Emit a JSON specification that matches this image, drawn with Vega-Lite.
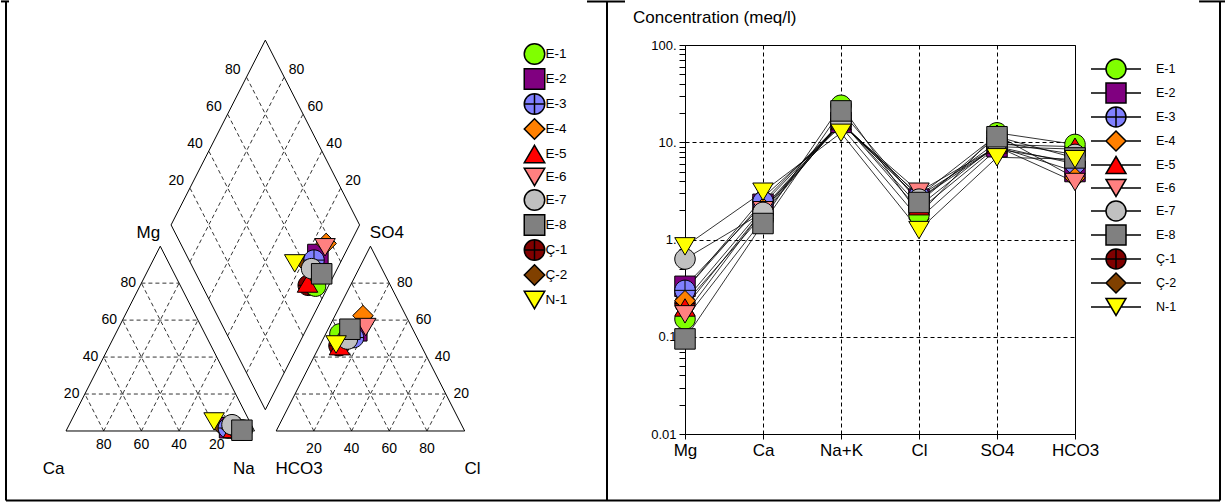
{
"$schema": "https://vega.github.io/schema/vega-lite/v6.json",
"padding": 0,
"bounds": "flush",
"spacing": 78,
"background": "white",
"config": {"font": "Liberation Sans", "view": {"stroke": null}},
"datasets": {
"outline": [
{"poly":"cat","i":0,"x":0,"y":0},{"poly":"cat","i":1,"x":100,"y":0},{"poly":"cat","i":2,"x":50,"y":86.6},{"poly":"cat","i":3,"x":0,"y":0},
{"poly":"an","i":0,"x":111.5,"y":0},{"poly":"an","i":1,"x":211.5,"y":0},{"poly":"an","i":2,"x":161.5,"y":86.6},{"poly":"an","i":3,"x":111.5,"y":0},
{"poly":"dia","i":0,"x":105.75,"y":9.96},{"poly":"dia","i":1,"x":155.75,"y":96.56},{"poly":"dia","i":2,"x":105.75,"y":183.16},{"poly":"dia","i":3,"x":55.75,"y":96.56},{"poly":"dia","i":4,"x":105.75,"y":9.96}
],
"grid": [
{"x":10,"y":17.32,"x2":90,"y2":17.32},{"x":20,"y":34.64,"x2":80,"y2":34.64},{"x":30,"y":51.96,"x2":70,"y2":51.96},{"x":40,"y":69.28,"x2":60,"y2":69.28},
{"x":20,"y":0,"x2":60,"y2":69.28},{"x":40,"y":0,"x2":70,"y2":51.96},{"x":60,"y":0,"x2":80,"y2":34.64},{"x":80,"y":0,"x2":90,"y2":17.32},
{"x":80,"y":0,"x2":40,"y2":69.28},{"x":60,"y":0,"x2":30,"y2":51.96},{"x":40,"y":0,"x2":20,"y2":34.64},{"x":20,"y":0,"x2":10,"y2":17.32},
{"x":121.5,"y":17.32,"x2":201.5,"y2":17.32},{"x":131.5,"y":34.64,"x2":191.5,"y2":34.64},{"x":141.5,"y":51.96,"x2":181.5,"y2":51.96},{"x":151.5,"y":69.28,"x2":171.5,"y2":69.28},
{"x":131.5,"y":0,"x2":171.5,"y2":69.28},{"x":151.5,"y":0,"x2":181.5,"y2":51.96},{"x":171.5,"y":0,"x2":191.5,"y2":34.64},{"x":191.5,"y":0,"x2":201.5,"y2":17.32},
{"x":191.5,"y":0,"x2":151.5,"y2":69.28},{"x":171.5,"y":0,"x2":141.5,"y2":51.96},{"x":151.5,"y":0,"x2":131.5,"y2":34.64},{"x":131.5,"y":0,"x2":121.5,"y2":17.32},
{"x":95.75,"y":27.28,"x2":145.75,"y2":113.88},{"x":85.75,"y":44.6,"x2":135.75,"y2":131.2},{"x":75.75,"y":61.92,"x2":125.75,"y2":148.52},{"x":65.75,"y":79.24,"x2":115.75,"y2":165.84},
{"x":115.75,"y":27.28,"x2":65.75,"y2":113.88},{"x":125.75,"y":44.6,"x2":75.75,"y2":131.2},{"x":135.75,"y":61.92,"x2":85.75,"y2":148.52},{"x":145.75,"y":79.24,"x2":95.75,"y2":165.84}
],
"frame": [
{"x":-31.83,"y":-32.57,"x2":-31.83,"y2":201.3},
{"x":287.0,"y":-32.57,"x2":287.0,"y2":201.3},
{"x":612.2,"y":-32.57,"x2":612.2,"y2":201.3},
{"x":-31.83,"y":-32.57,"x2":612.2,"y2":-32.57},
{"x":-34.48,"y":201.3,"x2":-30.24,"y2":201.3},
{"x":276.4,"y":201.3,"x2":296.55,"y2":201.3},
{"x":601.1,"y":201.3,"x2":615.4,"y2":201.3}
],
"plabels": [
{"kind":"tick","label":"80","x":20,"y":-6.65},{"kind":"tick","label":"60","x":40,"y":-6.65},{"kind":"tick","label":"40","x":60,"y":-6.65},{"kind":"tick","label":"20","x":80,"y":-6.65},
{"kind":"tick","label":"20","x":131.5,"y":-8.34},{"kind":"tick","label":"40","x":151.5,"y":-8.34},{"kind":"tick","label":"60","x":171.5,"y":-8.34},{"kind":"tick","label":"80","x":191.5,"y":-8.34},
{"kind":"tick","label":"80","x":33,"y":69.28},{"kind":"tick","label":"60","x":23,"y":51.96},{"kind":"tick","label":"40","x":13,"y":34.64},{"kind":"tick","label":"20","x":3,"y":17.32},
{"kind":"tick","label":"80","x":179.7,"y":69.28},{"kind":"tick","label":"60","x":189.7,"y":51.96},{"kind":"tick","label":"40","x":199.7,"y":34.64},{"kind":"tick","label":"20","x":209.7,"y":17.32},
{"kind":"tick","label":"80","x":88.45,"y":169.14},{"kind":"tick","label":"60","x":78.45,"y":151.82},{"kind":"tick","label":"40","x":68.45,"y":134.5},{"kind":"tick","label":"20","x":58.45,"y":117.18},
{"kind":"tick","label":"80","x":122.25,"y":169.14},{"kind":"tick","label":"60","x":132.25,"y":151.82},{"kind":"tick","label":"40","x":142.25,"y":134.5},{"kind":"tick","label":"20","x":152.25,"y":117.18},
{"kind":"name","label":"Mg","x":43.7,"y":92.9},{"kind":"name","label":"SO4","x":170.2,"y":92.9},
{"kind":"name","label":"Ca","x":-6.6,"y":-17.7},{"kind":"name","label":"Na","x":94.3,"y":-17.7},{"kind":"name","label":"HCO3","x":123.7,"y":-17.7},{"kind":"name","label":"Cl","x":215.6,"y":-17.7}
],
"piper": [
{"sample":"Ç-1","part":"cation","x":89.69,"y":1.03},{"sample":"Ç-1","part":"anion","x":144.83,"y":39.97},{"sample":"Ç-1","part":"diamond","x":128.50,"y":68.26},
{"sample":"Ç-2","part":"cation","x":83.71,"y":1.48},{"sample":"Ç-2","part":"anion","x":147.29,"y":44.80},{"sample":"Ç-2","part":"diamond","x":128.01,"y":78.20},
{"sample":"E-1","part":"cation","x":93.49,"y":0.51},{"sample":"E-1","part":"anion","x":145.32,"y":45.48},{"sample":"E-1","part":"diamond","x":132.39,"y":67.88},
{"sample":"E-2","part":"cation","x":86.77,"y":1.53},{"sample":"E-2","part":"anion","x":154.27,"y":46.95},{"sample":"E-2","part":"diamond","x":133.63,"y":82.70},
{"sample":"E-3","part":"cation","x":86.13,"y":1.39},{"sample":"E-3","part":"anion","x":152.51,"y":43.79},{"sample":"E-3","part":"diamond","x":131.56,"y":80.07},
{"sample":"E-4","part":"cation","x":87.91,"y":1.11},{"sample":"E-4","part":"anion","x":157.53,"y":54.07},{"sample":"E-4","part":"diamond","x":138.01,"y":87.89},
{"sample":"E-5","part":"cation","x":88.77,"y":0.93},{"sample":"E-5","part":"anion","x":145.08,"y":39.74},{"sample":"E-5","part":"diamond","x":128.13,"y":69.10},
{"sample":"E-6","part":"cation","x":88.20,"y":0.83},{"sample":"E-6","part":"anion","x":159.0,"y":48.71},{"sample":"E-6","part":"diamond","x":137.42,"y":86.09},
{"sample":"E-7","part":"cation","x":88.05,"y":2.94},{"sample":"E-7","part":"anion","x":149.31,"y":43.08},{"sample":"E-7","part":"diamond","x":130.27,"y":76.07},
{"sample":"E-8","part":"cation","x":93.32,"y":0.36},{"sample":"E-8","part":"anion","x":150.63,"y":47.69},{"sample":"E-8","part":"diamond","x":135.64,"y":73.66},
{"sample":"N-1","part":"cation","x":78.57,"y":4.47},{"sample":"N-1","part":"anion","x":143.27,"y":40.55},{"sample":"N-1","part":"diamond","x":121.34,"y":78.54}
],
"sch": [
{"sample":"Ç-1","ion":"Mg","value":0.22},{"sample":"Ç-1","ion":"Ca","value":1.8},{"sample":"Ç-1","ion":"Na+K","value":16.5},{"sample":"Ç-1","ion":"Cl","value":2.0},{"sample":"Ç-1","ion":"SO4","value":9.0},{"sample":"Ç-1","ion":"HCO3","value":8.5},
{"sample":"Ç-2","ion":"Mg","value":0.30},{"sample":"Ç-2","ion":"Ca","value":2.7},{"sample":"Ç-2","ion":"Na+K","value":14.5},{"sample":"Ç-2","ion":"Cl","value":1.63},{"sample":"Ç-2","ion":"SO4","value":8.5},{"sample":"Ç-2","ion":"HCO3","value":6.3},
{"sample":"E-1","ion":"Mg","value":0.152},{"sample":"E-1","ion":"Ca","value":1.6},{"sample":"E-1","ion":"Na+K","value":24},{"sample":"E-1","ion":"Cl","value":1.8},{"sample":"E-1","ion":"SO4","value":12.5},{"sample":"E-1","ion":"HCO3","value":9.5},
{"sample":"E-2","ion":"Mg","value":0.33},{"sample":"E-2","ion":"Ca","value":2.3},{"sample":"E-2","ion":"Na+K","value":16},{"sample":"E-2","ion":"Cl","value":2.6},{"sample":"E-2","ion":"SO4","value":9.0},{"sample":"E-2","ion":"HCO3","value":5.0},
{"sample":"E-3","ion":"Mg","value":0.30},{"sample":"E-3","ion":"Ca","value":2.45},{"sample":"E-3","ion":"Na+K","value":16},{"sample":"E-3","ion":"Cl","value":2.8},{"sample":"E-3","ion":"SO4","value":9.0},{"sample":"E-3","ion":"HCO3","value":6.0},
{"sample":"E-4","ion":"Mg","value":0.235},{"sample":"E-4","ion":"Ca","value":2.1},{"sample":"E-4","ion":"Na+K","value":16},{"sample":"E-4","ion":"Cl","value":2.8},{"sample":"E-4","ion":"SO4","value":11.8},{"sample":"E-4","ion":"HCO3","value":4.3},
{"sample":"E-5","ion":"Mg","value":0.20},{"sample":"E-5","ion":"Ca","value":2.0},{"sample":"E-5","ion":"Na+K","value":16.5},{"sample":"E-5","ion":"Cl","value":2.2},{"sample":"E-5","ion":"SO4","value":9.5},{"sample":"E-5","ion":"HCO3","value":9.0},
{"sample":"E-6","ion":"Mg","value":0.17},{"sample":"E-6","ion":"Ca","value":2.0},{"sample":"E-6","ion":"Na+K","value":15.5},{"sample":"E-6","ion":"Cl","value":3.1},{"sample":"E-6","ion":"SO4","value":9.0},{"sample":"E-6","ion":"HCO3","value":3.9},
{"sample":"E-7","ion":"Mg","value":0.63},{"sample":"E-7","ion":"Ca","value":1.9},{"sample":"E-7","ion":"Na+K","value":16},{"sample":"E-7","ion":"Cl","value":2.6},{"sample":"E-7","ion":"SO4","value":10.0},{"sample":"E-7","ion":"HCO3","value":7.5},
{"sample":"E-8","ion":"Mg","value":0.095},{"sample":"E-8","ion":"Ca","value":1.46},{"sample":"E-8","ion":"Na+K","value":21},{"sample":"E-8","ion":"Cl","value":2.4},{"sample":"E-8","ion":"SO4","value":11.4},{"sample":"E-8","ion":"HCO3","value":6.9},
{"sample":"N-1","ion":"Mg","value":0.85},{"sample":"N-1","ion":"Ca","value":3.1},{"sample":"N-1","ion":"Na+K","value":12.5},{"sample":"N-1","ion":"Cl","value":1.25},{"sample":"N-1","ion":"SO4","value":7.0},{"sample":"N-1","ion":"HCO3","value":6.7}
]
},
"hconcat": [
{
"width": 601, "height": 389,
"layer": [
{"data": {"name": "grid"}, "mark": {"type": "rule", "strokeDash": [4, 3], "strokeWidth": 0.8, "color": "black"},
 "encoding": {
  "x": {"field": "x", "type": "quantitative", "scale": {"domain": [-31.83, 287.0], "nice": false, "zero": false}, "axis": null},
  "y": {"field": "y", "type": "quantitative", "scale": {"domain": [-1.41, 180.88], "nice": false, "zero": false}, "axis": null},
  "x2": {"field": "x2"}, "y2": {"field": "y2"}}},
{"data": {"name": "outline"}, "mark": {"type": "line", "color": "black", "strokeWidth": 1},
 "encoding": {"x": {"field": "x", "type": "quantitative"}, "y": {"field": "y", "type": "quantitative"}, "detail": {"field": "poly"}, "order": {"field": "i", "type": "quantitative"}}},
{"data": {"name": "plabels"}, "transform": [{"filter": "datum.kind === 'tick'"}],
 "mark": {"type": "text", "fontSize": 14, "color": "black", "align": "center", "baseline": "middle"},
 "encoding": {"x": {"field": "x", "type": "quantitative"}, "y": {"field": "y", "type": "quantitative"}, "text": {"field": "label"}}},
{"data": {"name": "plabels"}, "transform": [{"filter": "datum.kind === 'name'"}],
 "mark": {"type": "text", "fontSize": 17, "color": "black", "align": "center", "baseline": "middle"},
 "encoding": {"x": {"field": "x", "type": "quantitative"}, "y": {"field": "y", "type": "quantitative"}, "text": {"field": "label"}}},
{"data": {"name": "piper"}, "mark": {"type": "point", "filled": true, "stroke": "black", "strokeWidth": 1, "opacity": 1, "size": 420},
 "encoding": {
  "x": {"field": "x", "type": "quantitative"}, "y": {"field": "y", "type": "quantitative"},
  "shape": {"field": "sample", "type": "nominal",
   "scale": {"domain": ["E-1","E-2","E-3","E-4","E-5","E-6","E-7","E-8","Ç-1","Ç-2","N-1"],
    "range": ["M-1,0A1,1,0,1,0,1,0A1,1,0,1,0,-1,0Z","M-1,-1L1,-1L1,1L-1,1Z","M-1,0A1,1,0,1,0,1,0A1,1,0,1,0,-1,0ZM-1,0L1,0M0,-1L0,1","M-1,0L0,-1L1,0L0,1Z","M0,-0.85L1,0.85L-1,0.85Z","M-1,-0.85L1,-0.85L0,0.85Z","M-1,0A1,1,0,1,0,1,0A1,1,0,1,0,-1,0Z","M-1,-1L1,-1L1,1L-1,1Z","M-1,0A1,1,0,1,0,1,0A1,1,0,1,0,-1,0ZM-1,0L1,0M0,-1L0,1","M-1,0L0,-1L1,0L0,1Z","M-1,-0.85L1,-0.85L0,0.85Z"]},
   "legend": {"orient": "none", "legendX": 517.5, "legendY": -2, "title": null, "symbolSize": 420, "labelFontSize": 13.5, "labelColor": "black", "labelOffset": 0, "rowPadding": -6.5, "padding": 0}},
  "color": {"field": "sample", "type": "nominal",
   "scale": {"domain": ["E-1","E-2","E-3","E-4","E-5","E-6","E-7","E-8","Ç-1","Ç-2","N-1"],
    "range": ["#80ff00","#800080","#8080ff","#ff8000","#ff0000","#ff8080","#c0c0c0","#808080","#800000","#804000","#ffff00"]},
   "legend": {"orient": "none", "legendX": 517.5, "legendY": -2, "title": null, "symbolSize": 420, "labelFontSize": 13.5, "labelColor": "black", "labelOffset": 0, "rowPadding": -6.5, "padding": 0}}}},
{"data": {"name": "frame"}, "mark": {"type": "rule", "strokeWidth": 2, "color": "black"},
 "encoding": {"x": {"field": "x", "type": "quantitative"}, "y": {"field": "y", "type": "quantitative"}, "x2": {"field": "x2"}, "y2": {"field": "y2"}}}
]
},
{
"width": 390, "height": 389,
"view": {"stroke": "black", "strokeWidth": 1},
"title": {"text": "Concentration (meq/l)", "anchor": "start", "frame": "group", "dx": -52, "offset": 12, "fontSize": 17, "fontWeight": "normal", "color": "black"},
"data": {"name": "sch"},
"encoding": {
 "x": {"field": "ion", "type": "nominal", "scale": {"type": "point", "domain": ["Mg","Ca","Na+K","Cl","SO4","HCO3"], "padding": 0},
  "axis": {"title": null, "labelAngle": 0, "labelFontSize": 17, "labelColor": "black", "labelPadding": 3, "tickSize": 5, "tickColor": "black", "domain": false, "grid": true, "gridDash": [4, 3], "gridColor": "black", "gridOpacity": 1}},
 "y": {"field": "value", "type": "quantitative", "scale": {"type": "log", "domain": [0.01, 100], "nice": false},
  "axis": {"title": null, "values": [0.01,0.02,0.03,0.04,0.05,0.06,0.07,0.08,0.09,0.1,0.2,0.3,0.4,0.5,0.6,0.7,0.8,0.9,1,2,3,4,5,6,7,8,9,10,20,30,40,50,60,70,80,90,100],
   "labelExpr": "datum.value == 100 ? '100.' : datum.value == 10 ? '10.' : datum.value == 1 ? '1.' : datum.value == 0.1 ? '0.1' : datum.value == 0.01 ? '0.01' : ''",
   "labelOverlap": false, "labelFlush": false, "labelFontSize": 13, "labelColor": "black", "labelPadding": 3, "tickSize": 6, "tickColor": "black", "domain": false,
   "grid": true, "gridDash": [4, 3], "gridColor": "black",
   "gridOpacity": {"condition": {"test": "datum.value == 10 || datum.value == 1 || datum.value == 0.1", "value": 1}, "value": 0}}}
},
"layer": [
 {"mark": {"type": "line", "color": "black", "strokeWidth": 0.8}, "encoding": {"detail": {"field": "sample"}, "order": {"value": null}}},
 {"mark": {"type": "point", "filled": true, "stroke": "black", "strokeWidth": 1, "opacity": 1, "size": 420},
  "encoding": {
   "shape": {"field": "sample", "type": "nominal",
    "scale": {"domain": ["E-1","E-2","E-3","E-4","E-5","E-6","E-7","E-8","Ç-1","Ç-2","N-1"],
     "range": ["M-1,0A1,1,0,1,0,1,0A1,1,0,1,0,-1,0Z","M-1,-1L1,-1L1,1L-1,1Z","M-1,0A1,1,0,1,0,1,0A1,1,0,1,0,-1,0ZM-1,0L1,0M0,-1L0,1","M-1,0L0,-1L1,0L0,1Z","M0,-0.85L1,0.85L-1,0.85Z","M-1,-0.85L1,-0.85L0,0.85Z","M-1,0A1,1,0,1,0,1,0A1,1,0,1,0,-1,0Z","M-1,-1L1,-1L1,1L-1,1Z","M-1,0A1,1,0,1,0,1,0A1,1,0,1,0,-1,0ZM-1,0L1,0M0,-1L0,1","M-1,0L0,-1L1,0L0,1Z","M-1,-0.85L1,-0.85L0,0.85Z"]},
    "legend": null},
   "fill": {"field": "sample", "type": "nominal",
    "scale": {"domain": ["E-1","E-2","E-3","E-4","E-5","E-6","E-7","E-8","Ç-1","Ç-2","N-1"],
     "range": ["#80ff00","#800080","#8080ff","#ff8000","#ff0000","#ff8080","#c0c0c0","#808080","#800000","#804000","#ffff00"]},
    "legend": null}}},
 {"transform": [{"filter": "false"}],
  "mark": {"type": "point", "filled": true, "stroke": "black", "strokeWidth": 1, "opacity": 1, "size": 400},
  "encoding": {
   "shape": {"field": "sample", "type": "nominal",
    "scale": {"domain": ["E-1","E-2","E-3","E-4","E-5","E-6","E-7","E-8","Ç-1","Ç-2","N-1"],
     "range": ["M-2.5,0L-1,0M1,0L2.5,0M-1,0A1,1,0,1,0,1,0A1,1,0,1,0,-1,0Z","M-2.5,0L-1,0M1,0L2.5,0M-1,-1L1,-1L1,1L-1,1Z","M-2.5,0L2.5,0M0,-1L0,1M-1,0A1,1,0,1,0,1,0A1,1,0,1,0,-1,0Z","M-2.5,0L-1,0M1,0L2.5,0M-1,0L0,-1L1,0L0,1Z","M-2.5,0L-0.5,0M0.5,0L2.5,0M0,-0.85L1,0.85L-1,0.85Z","M-2.5,0L-0.5,0M0.5,0L2.5,0M-1,-0.85L1,-0.85L0,0.85Z","M-2.5,0L-1,0M1,0L2.5,0M-1,0A1,1,0,1,0,1,0A1,1,0,1,0,-1,0Z","M-2.5,0L-1,0M1,0L2.5,0M-1,-1L1,-1L1,1L-1,1Z","M-2.5,0L2.5,0M0,-1L0,1M-1,0A1,1,0,1,0,1,0A1,1,0,1,0,-1,0Z","M-2.5,0L-1,0M1,0L2.5,0M-1,0L0,-1L1,0L0,1Z","M-2.5,0L-0.5,0M0.5,0L2.5,0M-1,-0.85L1,-0.85L0,0.85Z"]},
    "legend": {"orient": "none", "legendX": 420, "legendY": 13, "title": null, "symbolSize": 400, "symbolOpacity": 1, "labelFontSize": 12.5, "labelColor": "black", "labelOffset": 29, "rowPadding": -5.5, "padding": 0}},
   "fill": {"field": "sample", "type": "nominal",
    "scale": {"domain": ["E-1","E-2","E-3","E-4","E-5","E-6","E-7","E-8","Ç-1","Ç-2","N-1"],
     "range": ["#80ff00","#800080","#8080ff","#ff8000","#ff0000","#ff8080","#c0c0c0","#808080","#800000","#804000","#ffff00"]},
    "legend": {"orient": "none", "legendX": 420, "legendY": 13, "title": null, "symbolSize": 400, "symbolOpacity": 1, "labelFontSize": 12.5, "labelColor": "black", "labelOffset": 29, "rowPadding": -5.5, "padding": 0}}}}
],
"resolve": {"scale": {"shape": "independent", "fill": "independent"}}
}
],
"resolve": {"scale": {"shape": "independent", "color": "independent", "fill": "independent"}}
}
